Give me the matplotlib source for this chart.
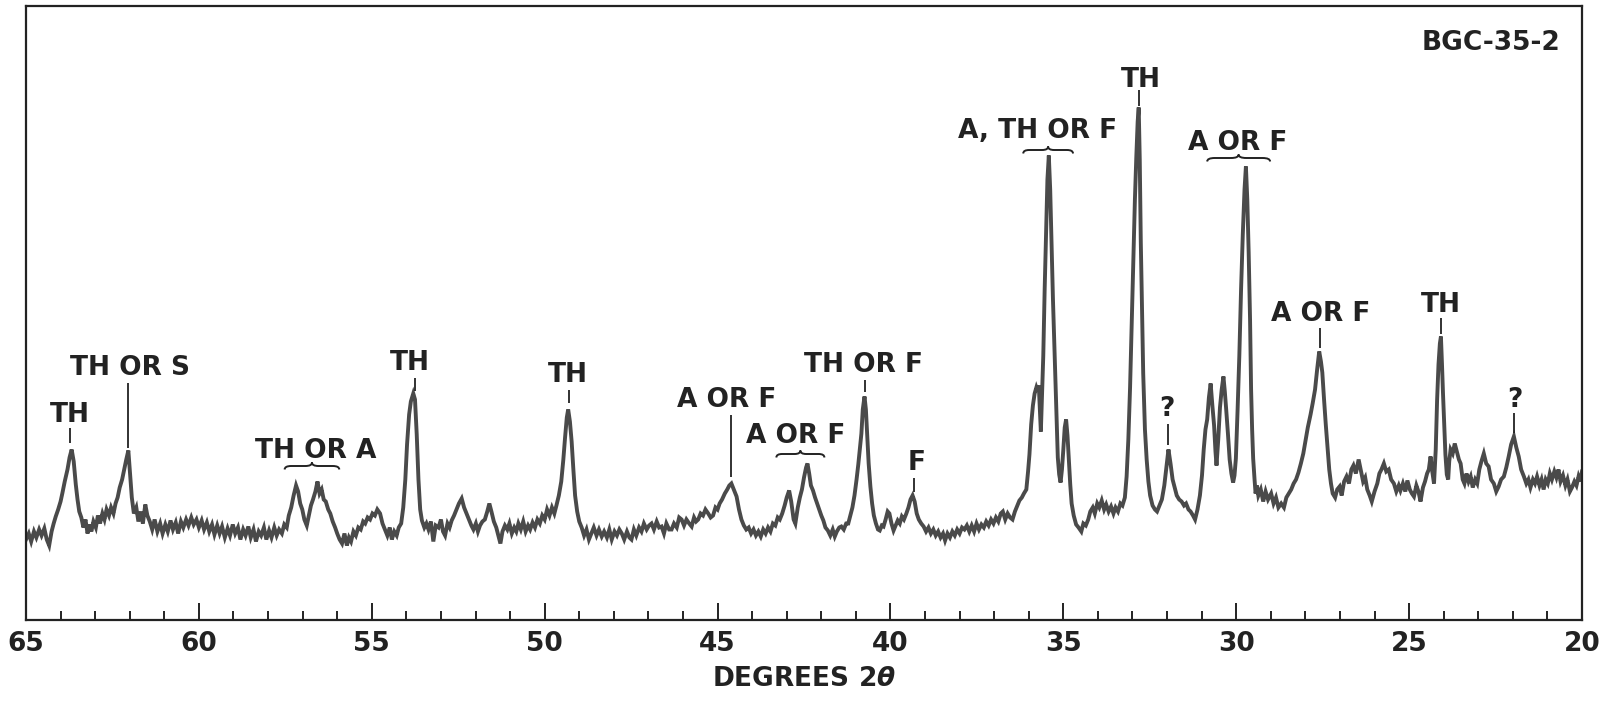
import numpy as np
import matplotlib
matplotlib.use("Agg")
import matplotlib.pyplot as plt
from matplotlib.path import Path
from matplotlib.patches import PathPatch

plt.rcParams['font.family'] = ['DejaVu Sans']
plt.rcParams['font.weight'] = 'bold'
plt.rcParams['mathtext.fontset'] = 'custom'
plt.rcParams['mathtext.it'] = 'DejaVu Sans:italic:bold'
plt.rcParams['mathtext.rm'] = 'DejaVu Sans:bold'

# ---------------- data: (2-theta degrees, intensity) ----------------
seg_65_60 = [
    (65.00, 80), (64.92, 86), (64.85, 78), (64.77, 88), (64.70, 82), (64.62, 90), (64.55, 84),
    (64.47, 91), (64.40, 80), (64.33, 74), (64.26, 88), (64.20, 96), (64.14, 103), (64.07, 110),
    (64.00, 118), (63.95, 126), (63.88, 138), (63.80, 150), (63.74, 162), (63.68, 170), (63.62, 158),
    (63.56, 135), (63.51, 120), (63.46, 108), (63.40, 102), (63.34, 92), (63.28, 100), (63.22, 86),
    (63.17, 95), (63.11, 88), (63.05, 98), (62.98, 92), (62.92, 104), (62.86, 96), (62.79, 106),
    (62.73, 100), (62.67, 110), (62.60, 104), (62.54, 112), (62.47, 106), (62.41, 116), (62.35, 122),
    (62.29, 132), (62.22, 140), (62.16, 150), (62.10, 160), (62.04, 169), (61.99, 145), (61.94, 122),
    (61.88, 106), (61.81, 112), (61.75, 98), (61.68, 108), (61.62, 96), (61.55, 115), (61.49, 104),
    (61.42, 98), (61.35, 90), (61.28, 100), (61.20, 88), (61.12, 96), (61.05, 86), (60.97, 95),
    (60.90, 88), (60.82, 99), (60.75, 90), (60.67, 97), (60.60, 86), (60.52, 98), (60.45, 92),
    (60.37, 100), (60.30, 94), (60.22, 102), (60.15, 95), (60.07, 100), (60.00, 92),
]
seg_60_55 = [
    (59.92, 99), (59.85, 90), (59.77, 97), (59.70, 88), (59.62, 95), (59.55, 85), (59.47, 94),
    (59.40, 86), (59.33, 93), (59.25, 82), (59.17, 91), (59.10, 84), (59.02, 95), (58.95, 86),
    (58.87, 92), (58.80, 80), (58.72, 90), (58.65, 84), (58.57, 93), (58.50, 82), (58.42, 90),
    (58.35, 78), (58.27, 88), (58.20, 84), (58.12, 92), (58.05, 80), (57.97, 89), (57.90, 82),
    (57.82, 92), (57.75, 84), (57.68, 90), (57.60, 86), (57.53, 95), (57.46, 92), (57.40, 104),
    (57.33, 112), (57.26, 124), (57.19, 134), (57.13, 128), (57.07, 116), (57.01, 110), (56.95, 100),
    (56.88, 94), (56.82, 104), (56.76, 114), (56.70, 120), (56.63, 128), (56.57, 138), (56.51, 126),
    (56.45, 130), (56.39, 120), (56.33, 118), (56.26, 110), (56.20, 106), (56.13, 98), (56.06, 92),
    (56.00, 86), (55.93, 80), (55.86, 76), (55.79, 86), (55.72, 74), (55.66, 82), (55.60, 78),
    (55.53, 88), (55.46, 84), (55.39, 92), (55.32, 90), (55.25, 98), (55.19, 96), (55.12, 102),
    (55.05, 100),
]
seg_55_50 = [
    (54.98, 106), (54.91, 104), (54.84, 110), (54.76, 106), (54.69, 96), (54.62, 90), (54.55, 84),
    (54.48, 92), (54.42, 80), (54.35, 88), (54.28, 84), (54.22, 92), (54.15, 96), (54.09, 112),
    (54.03, 140), (53.98, 175), (53.92, 205), (53.87, 218), (53.80, 226), (53.75, 220), (53.70, 185),
    (53.65, 140), (53.60, 110), (53.55, 99), (53.48, 92), (53.42, 96), (53.36, 90), (53.29, 98),
    (53.22, 78), (53.15, 94), (53.07, 92), (53.00, 100), (52.94, 88), (52.88, 84), (52.81, 96),
    (52.75, 92), (52.69, 99), (52.62, 104), (52.55, 110), (52.48, 116), (52.40, 121), (52.33, 112),
    (52.26, 106), (52.19, 100), (52.12, 94), (52.06, 90), (51.99, 96), (51.93, 88), (51.87, 94),
    (51.80, 98), (51.73, 100), (51.66, 108), (51.60, 116), (51.54, 108), (51.47, 98), (51.40, 92),
    (51.34, 84), (51.28, 76), (51.22, 88), (51.15, 94), (51.08, 90), (51.02, 96), (50.95, 86),
    (50.88, 92), (50.82, 88), (50.76, 96), (50.69, 90), (50.62, 98), (50.55, 88), (50.48, 94),
    (50.42, 90), (50.35, 97), (50.28, 92), (50.21, 100), (50.14, 96), (50.07, 104),
]
seg_50_45 = [
    (50.00, 100), (49.93, 110), (49.86, 104), (49.79, 112), (49.72, 106), (49.66, 114), (49.59, 124),
    (49.52, 138), (49.46, 160), (49.41, 182), (49.36, 202), (49.32, 210), (49.27, 198), (49.22, 178),
    (49.17, 150), (49.12, 124), (49.06, 108), (49.00, 98), (48.93, 92), (48.86, 84), (48.79, 90),
    (48.72, 80), (48.65, 86), (48.58, 92), (48.50, 84), (48.43, 90), (48.35, 83), (48.28, 88),
    (48.20, 82), (48.13, 90), (48.06, 80), (47.98, 88), (47.91, 84), (47.84, 90), (47.77, 86),
    (47.70, 80), (47.62, 88), (47.55, 82), (47.49, 80), (47.42, 90), (47.35, 84), (47.27, 92),
    (47.20, 88), (47.13, 96), (47.05, 90), (46.98, 94), (46.91, 96), (46.84, 90), (46.76, 98),
    (46.69, 92), (46.62, 93), (46.55, 86), (46.48, 96), (46.40, 90), (46.33, 90), (46.26, 96),
    (46.18, 92), (46.11, 102), (46.04, 100), (45.97, 94), (45.90, 100), (45.82, 96), (45.75, 93),
    (45.68, 102), (45.62, 98), (45.56, 100), (45.49, 106), (45.42, 104), (45.35, 110), (45.27, 106),
    (45.20, 102), (45.13, 104), (45.06, 112),
]
seg_45_40 = [
    (45.00, 110), (44.94, 116), (44.87, 120), (44.79, 126), (44.72, 130), (44.66, 134), (44.60, 136),
    (44.53, 130), (44.45, 123), (44.38, 110), (44.31, 100), (44.24, 94), (44.17, 90), (44.10, 92),
    (44.03, 86), (43.96, 90), (43.89, 84), (43.82, 88), (43.75, 83), (43.68, 90), (43.61, 86),
    (43.54, 92), (43.47, 88), (43.40, 96), (43.33, 94), (43.26, 102), (43.20, 100), (43.13, 106),
    (43.06, 114), (43.00, 122), (42.93, 129), (42.87, 118), (42.80, 100), (42.75, 96), (42.68, 112),
    (42.62, 122), (42.56, 130), (42.50, 142), (42.44, 152), (42.40, 156), (42.35, 146), (42.30, 134),
    (42.24, 129), (42.18, 122), (42.12, 116), (42.06, 110), (42.00, 104), (41.94, 99), (41.88, 92),
    (41.81, 89), (41.74, 84), (41.67, 90), (41.61, 83), (41.55, 88), (41.48, 92), (41.42, 93),
    (41.35, 90), (41.28, 96), (41.22, 96), (41.16, 104), (41.10, 112), (41.04, 124), (40.98, 140),
    (40.93, 155), (40.88, 172), (40.84, 186), (40.80, 210), (40.75, 223), (40.71, 210), (40.67, 182),
    (40.63, 156), (40.58, 133), (40.53, 116), (40.48, 104), (40.42, 96), (40.36, 90), (40.31, 89),
    (40.25, 94), (40.20, 93), (40.14, 100), (40.08, 108), (40.03, 106),
]
seg_40_35 = [
    (39.97, 96), (39.91, 89), (39.85, 94), (39.79, 99), (39.73, 96), (39.67, 103), (39.61, 100),
    (39.54, 106), (39.48, 112), (39.42, 120), (39.36, 124), (39.30, 118), (39.24, 106), (39.18, 100),
    (39.11, 96), (39.04, 93), (38.97, 88), (38.90, 92), (38.83, 86), (38.76, 90), (38.69, 84),
    (38.62, 88), (38.55, 82), (38.48, 86), (38.42, 79), (38.35, 86), (38.28, 82), (38.21, 88),
    (38.14, 84), (38.07, 90), (38.00, 86), (37.93, 92), (37.86, 90), (37.79, 94), (37.72, 88),
    (37.65, 94), (37.58, 88), (37.51, 96), (37.44, 90), (37.37, 95), (37.30, 92), (37.23, 98),
    (37.16, 94), (37.09, 100), (37.02, 96), (36.95, 102), (36.88, 98), (36.81, 106), (36.75, 108),
    (36.68, 100), (36.61, 106), (36.54, 102), (36.47, 100), (36.40, 108), (36.33, 114), (36.27, 119),
    (36.20, 122), (36.14, 126), (36.07, 130), (36.02, 148), (35.98, 165), (35.93, 195), (35.88, 214),
    (35.83, 226), (35.78, 232), (35.74, 228), (35.71, 234), (35.68, 210), (35.65, 188), (35.62, 220),
    (35.58, 264), (35.54, 330), (35.50, 385), (35.46, 440), (35.42, 464), (35.38, 430), (35.34, 374),
    (35.30, 320), (35.25, 264), (35.20, 205), (35.16, 162), (35.12, 145), (35.08, 137), (35.04, 150),
    (35.00, 170),
]
seg_35_30 = [
    (34.96, 192), (34.92, 200), (34.88, 184), (34.84, 160), (34.80, 135), (34.76, 116), (34.70, 104),
    (34.63, 95), (34.56, 92), (34.48, 88), (34.42, 96), (34.35, 94), (34.28, 100), (34.22, 108),
    (34.15, 112), (34.09, 106), (34.02, 116), (33.96, 112), (33.89, 119), (33.82, 110), (33.76, 115),
    (33.69, 108), (33.62, 113), (33.55, 106), (33.49, 112), (33.42, 108), (33.35, 116), (33.29, 114),
    (33.22, 122), (33.17, 143), (33.12, 180), (33.07, 232), (33.02, 300), (32.97, 368), (32.93, 420),
    (32.89, 462), (32.85, 498), (32.82, 512), (32.79, 460), (32.76, 378), (32.72, 300), (32.69, 246),
    (32.64, 190), (32.59, 160), (32.54, 138), (32.49, 124), (32.42, 114), (32.35, 110), (32.29, 108),
    (32.22, 114), (32.15, 120), (32.08, 134), (32.02, 152), (31.96, 170), (31.90, 156), (31.84, 140),
    (31.78, 132), (31.72, 124), (31.65, 120), (31.58, 118), (31.51, 114), (31.45, 116), (31.38, 110),
    (31.32, 108), (31.25, 104), (31.19, 100), (31.12, 110), (31.05, 124), (30.99, 144), (30.94, 170),
    (30.89, 190), (30.84, 200), (30.79, 222), (30.74, 236), (30.69, 214), (30.64, 194), (30.60, 168),
    (30.57, 154), (30.52, 180), (30.47, 212), (30.42, 230), (30.37, 243), (30.33, 228), (30.29, 210),
    (30.24, 186), (30.19, 160), (30.14, 146), (30.09, 137), (30.05, 144),
]
seg_30_25 = [
    (30.01, 161), (29.96, 210), (29.91, 264), (29.86, 330), (29.81, 385), (29.76, 430), (29.72, 453),
    (29.68, 420), (29.64, 367), (29.60, 300), (29.57, 230), (29.54, 190), (29.51, 161), (29.47, 140),
    (29.44, 126), (29.40, 134), (29.36, 124), (29.29, 130), (29.22, 118), (29.15, 128), (29.08, 120),
    (28.99, 126), (28.92, 116), (28.85, 122), (28.78, 112), (28.70, 116), (28.62, 112), (28.55, 122),
    (28.48, 126), (28.41, 130), (28.34, 136), (28.27, 140), (28.20, 147), (28.13, 156), (28.06, 166),
    (28.00, 178), (27.93, 192), (27.85, 205), (27.79, 216), (27.72, 230), (27.66, 250), (27.60, 268),
    (27.55, 258), (27.51, 247), (27.46, 220), (27.41, 195), (27.36, 172), (27.31, 150), (27.26, 136),
    (27.21, 126), (27.14, 122), (27.08, 130), (27.01, 133), (26.95, 124), (26.88, 138), (26.81, 143),
    (26.74, 136), (26.67, 150), (26.61, 154), (26.54, 146), (26.46, 160), (26.40, 150), (26.33, 138),
    (26.27, 142), (26.21, 130), (26.14, 124), (26.08, 118), (26.00, 128), (25.92, 136), (25.86, 146),
    (25.80, 150), (25.73, 156), (25.66, 148), (25.59, 150), (25.52, 140), (25.44, 136), (25.37, 128),
    (25.30, 134), (25.25, 129), (25.18, 136), (25.11, 128), (25.05, 139),
]
seg_25_20 = [
    (24.98, 130), (24.92, 126), (24.86, 123), (24.79, 134), (24.73, 128), (24.67, 118), (24.60, 132),
    (24.54, 138), (24.48, 146), (24.43, 150), (24.38, 163), (24.33, 148), (24.28, 136), (24.23, 170),
    (24.19, 220), (24.15, 255), (24.11, 276), (24.08, 283), (24.05, 256), (24.02, 226), (23.98, 190),
    (23.95, 165), (23.91, 145), (23.87, 140), (23.84, 158), (23.80, 170), (23.74, 166), (23.68, 176),
    (23.62, 168), (23.56, 160), (23.51, 156), (23.45, 140), (23.40, 136), (23.34, 146), (23.28, 138),
    (23.22, 143), (23.16, 132), (23.09, 140), (23.03, 136), (22.97, 150), (22.91, 158), (22.84, 166),
    (22.77, 156), (22.70, 153), (22.63, 140), (22.55, 136), (22.48, 128), (22.41, 133), (22.34, 140),
    (22.26, 143), (22.19, 152), (22.12, 163), (22.05, 175), (21.97, 183), (21.90, 172), (21.83, 163),
    (21.76, 150), (21.68, 143), (21.61, 136), (21.55, 140), (21.49, 132), (21.42, 140), (21.36, 136),
    (21.30, 143), (21.23, 134), (21.17, 140), (21.11, 130), (21.05, 140), (20.99, 136), (20.93, 146),
    (20.87, 140), (20.80, 148), (20.74, 142), (20.68, 150), (20.62, 138), (20.55, 144), (20.48, 134),
    (20.42, 140), (20.35, 128), (20.29, 132), (20.22, 138), (20.16, 134), (20.10, 143), (20.05, 138),
    (20.00, 148),
]

major_ticks = [65, 60, 55, 50, 45, 40, 35, 30, 25, 20]
minor_ticks = list(range(20, 66))

# peak labels
label_text = ["TH", "TH OR S", "TH OR A", "TH", "TH", "A OR F", "A OR F", "TH OR F", "F",
              "A, TH OR F", "TH", "?", "A OR F", "A OR F", "TH", "?"]
label_x = [63.73, 62.00, 56.62, 53.89, 49.34, 44.74, 42.75, 40.79, 39.23,
           35.74, 32.77, 32.00, 29.97, 27.56, 24.09, 21.94]
label_y = [197.8, 244.5, 161.5, 249.5, 237.8, 212.8, 176.2, 247.8, 149.5,
           481.0, 532.5, 203.8, 469.0, 298.5, 307.8, 212.8]

# short marker lines: (x, top, bottom)
marker_lines = [(63.72, 191.5, 176.5), (62.04, 236.5, 171.5), (53.76, 241.5, 229.0),
                (49.31, 229.5, 216.5), (44.60, 204.5, 142.8), (40.75, 239.5, 227.8),
                (39.33, 141.5, 127.5), (32.82, 529.5, 514.0), (31.96, 195.5, 174.5),
                (27.59, 291.5, 272.0), (24.07, 301.5, 286.0), (21.97, 206.5, 186.5)]

# braces: (x start, x end, y)
braces = [(57.52, 55.94, 153.5), (43.30, 41.91, 165.5), (36.16, 34.72, 469.5), (30.84, 29.02, 461.5)]

sample_name = "BGC-35-2"

# ---------------- drawing ----------------
segments = [seg_65_60, seg_60_55, seg_55_50, seg_50_45, seg_45_40, seg_40_35,
            seg_35_30, seg_30_25, seg_25_20]
pairs = [p for s in segments for p in s]
two_theta = np.array([p[0] for p in pairs])
intensity = np.array([p[1] for p in pairs])

W, H = 1606, 703
fig = plt.figure(figsize=(W / 100, H / 100), dpi=100)
fig.patch.set_facecolor('white')
left_px, right_px, top_px, bot_px = 26, 1582, 6, 619.5
ax = fig.add_axes([left_px / W, 1 - bot_px / H, (right_px - left_px) / W, (bot_px - top_px) / H])

ink = '#222222'
ax.plot(two_theta, intensity, color='#4a4a4a', lw=2.8, solid_joinstyle='miter')

ax.set_xlim(65, 20)
ax.set_ylim(0, bot_px - top_px)
ax.set_xticks(major_ticks)
ax.set_xticklabels([str(t) for t in major_ticks])
ax.set_xticks(minor_ticks, minor=True)
ax.set_yticks([])
ax.tick_params(axis='x', which='major', direction='in', length=12.5, width=1.4,
               pad=8, labelsize=19, colors=ink)
ax.tick_params(axis='x', which='minor', direction='in', length=6.5, width=1.4, colors=ink)
for sp in ax.spines.values():
    sp.set_linewidth(1.6)
    sp.set_color(ink)

ax.set_xlabel('DEGREES 2$\\theta$', fontsize=19, fontweight='bold', color=ink, labelpad=7)

for t, x, y in zip(label_text, label_x, label_y):
    ax.text(x, y, t, ha='center', va='baseline', fontsize=19, fontweight='bold', color=ink)

for x, y0, y1 in marker_lines:
    ax.plot([x, x], [y0, y1], color=ink, lw=1.3, solid_capstyle='butt')


def brace_path(x0, x1, y, h=3.5):
    xc = 0.5 * (x0 + x1)
    a = 0.12 * (x1 - x0)
    verts = [(x0, y - h), (x0, y), (x0 + a, y), (xc - a, y), (xc, y), (xc, y + h),
             (xc, y), (xc + a, y), (x1 - a, y), (x1, y), (x1, y - h)]
    codes = [Path.MOVETO, Path.CURVE3, Path.CURVE3, Path.LINETO, Path.CURVE3, Path.CURVE3,
             Path.CURVE3, Path.CURVE3, Path.LINETO, Path.CURVE3, Path.CURVE3]
    return Path(verts, codes)


for x0, x1, y in braces:
    ax.add_patch(PathPatch(brace_path(x0, x1, y), fill=False, edgecolor=ink, lw=1.4))

ax.text(20.63, 569.5, sample_name, ha='right', va='baseline', fontsize=19,
        fontweight='bold', color=ink)

fig.savefig('out.png', dpi=100, facecolor='white')
